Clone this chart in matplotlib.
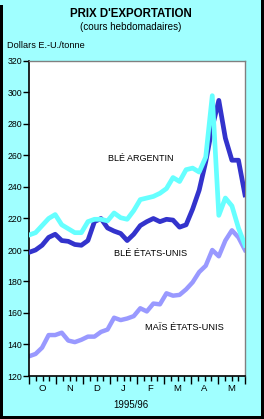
import numpy as np
import matplotlib

matplotlib.use("Agg")
import matplotlib.pyplot as plt
from matplotlib.patches import Rectangle

plt.rcParams["font.family"] = ["Liberation Sans", "DejaVu Sans"]

BG = "#a0ffff"
MONTHS = ["O", "N", "D", "J", "F", "M", "A", "M"]
YTICKS = list(range(120, 321, 20))

ble_argentin = [209.5, 211, 215.5, 220, 222.5, 216, 213.5, 211, 211, 218, 219.5, 219.5,
                218.5, 223.5, 220.5, 219.5, 225, 232, 233, 234, 236, 239, 246, 243.5,
                251, 252, 249.5, 259, 298, 222, 233, 228, 214, 203]
ble_us = [198.5, 200, 203, 208, 210, 206, 205.5, 203.5, 203, 206, 218, 220,
          214, 212, 210.5, 206, 210, 215.5, 218, 220, 218, 219.5, 219, 214.5,
          216, 226, 238, 256, 278, 295, 271, 257, 257, 235]
mais_us = [132.5, 134, 138, 146, 146, 147.5, 142.5, 141.5, 143, 145, 145, 148,
           149.5, 157, 155.5, 156.5, 158, 163, 161, 166, 165.5, 172.5, 171, 171.5,
           175, 179.5, 186, 190, 200, 196, 206, 212.5, 208, 200]

n = len(ble_us)
x = np.arange(n)
week = (n - 1) / 32  # 32 weekly ticks across the axis

fig = plt.figure(figsize=(2.64, 4.19), dpi=100, facecolor=BG)
ax = fig.add_axes([29 / 264, 43 / 419, 216 / 264, 315 / 419])
ax.set_facecolor("white")

ax.plot(x, mais_us, color="#9999ff", lw=3.2, solid_joinstyle="round", zorder=2)
ax.plot(x, ble_us, color="#3333cc", lw=3.4, solid_joinstyle="round", zorder=3)
ax.plot(x, ble_argentin, color="#66ffff", lw=3.4, solid_joinstyle="round", zorder=4)

ax.set_xlim(0, n - 1)
ax.set_ylim(120, 320)
ax.set_yticks(YTICKS)
ax.tick_params(axis="y", labelsize=6.3, length=4, width=1, pad=1, direction="out")
ax.set_xticks([i * 4 * week for i in range(9)])
ax.set_xticklabels([])
ax.set_xticks([i * week for i in range(33)], minor=True)
ax.tick_params(axis="x", which="major", length=6, width=1, direction="out")
ax.tick_params(axis="x", which="minor", length=3.5, width=1, direction="out")
for s in ["left", "bottom"]:
    ax.spines[s].set_color("black")
    ax.spines[s].set_linewidth(1.2)
for s in ["top", "right"]:
    ax.spines[s].set_color("#808080")
    ax.spines[s].set_linewidth(1)

trans = ax.get_xaxis_transform()
for i, m in enumerate(MONTHS):
    ax.text((i * 4 + 2) * week, -0.04, m, transform=trans, ha="center", va="center", fontsize=6.8)

ax.text(17.0, 258, "BLÉ ARGENTIN", ha="center", va="center", fontsize=6.5)
ax.text(18.6, 198, "BLÉ ÉTATS-UNIS", ha="center", va="center", fontsize=6.6)
ax.text(23.8, 150.5, "MAÏS ÉTATS-UNIS", ha="center", va="center", fontsize=6.7)

fig.text(131 / 264, 1 - 14 / 419, "PRIX D'EXPORTATION", ha="center", va="center",
         fontsize=8.3, fontweight="bold")
fig.text(131 / 264, 1 - 27 / 419, "(cours hebdomadaires)", ha="center", va="center", fontsize=7.1)
fig.text(7 / 264, 1 - 45 / 419, "Dollars E.-U./tonne", ha="left", va="center", fontsize=6.6)
fig.text(131 / 264, 1 - 405 / 419, "1995/96", ha="center", va="center", fontsize=6.9)

# dark frame edges of the original panel
for r in [(0, 0, 2.5 / 264, 1 - 5 / 419), (1 - 3 / 264, 0, 3 / 264, 1),
          (0, 0, 1, 3 / 419)]:
    fig.add_artist(Rectangle(r[:2], r[2], r[3], transform=fig.transFigure,
                             color="black", lw=0))

fig.savefig("out.png", dpi=100, facecolor=BG)
